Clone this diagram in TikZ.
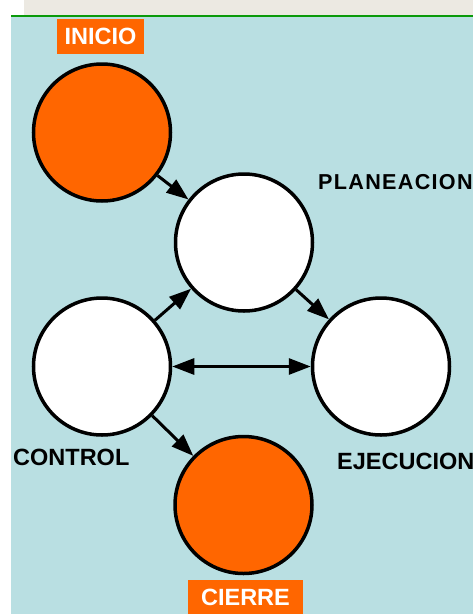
\documentclass[tikz,border=0pt]{standalone}
\usepackage{fontspec}
\setmainfont{Liberation Sans}
\newfontfamily\widefont[LetterSpace=6]{Liberation Sans}
\usetikzlibrary{arrows.meta}
\definecolor{bgblue}{HTML}{B9DFE2}
\definecolor{orng}{HTML}{FF6600}
\definecolor{grn}{HTML}{0A9A0A}
\definecolor{beige}{HTML}{ECE9E2}
\begin{document}
\begin{tikzpicture}[x=1pt,y=-1pt,
  phase/.style={circle, draw=black, line width=3.5pt, minimum size=137pt, inner sep=0pt},
  orangephase/.style={phase, fill=orng},
  whitephase/.style={phase, fill=white},
  lbl/.style={anchor=west, inner sep=0pt, text=black},
  tag/.style={fill=orng, text=white, inner sep=0pt, font=\bfseries\fontsize{23.5}{26}\selectfont},
  conn/.style={line width=3pt, -{Triangle[length=22pt,width=16pt]}},
  biconn/.style={line width=3pt, {Triangle[length=22pt,width=16pt]}-{Triangle[length=22pt,width=16pt]}}]
\useasboundingbox (0,0) rectangle (473,614);
\begin{scope}
\clip (0,0) rectangle (473,614);
\fill[white] (0,0) rectangle (473,614);
\fill[beige] (24,0) rectangle (473,15);
\fill[grn] (11,15) rectangle (473,17);
\fill[bgblue] (11,17) rectangle (473,614);

\node[orangephase] (inicio) at (102,132.5) {};
\node[whitephase] (plan) at (244,242.5) {};
\node[whitephase] (control) at (102,366.5) {};
\node[whitephase] (ejec) at (381,366.5) {};
\node[orangephase] (cierre) at (243.5,505) {};

\node[tag, minimum width=87pt, minimum height=35pt] (tinicio) at (100.5,36.5) {INICIO};
\node[tag, minimum width=115pt, minimum height=35pt] (tcierre) at (245.5,597.5) {CIERRE};

\node[lbl, font=\widefont\bfseries\fontsize{21.6}{24}\selectfont] (lplan) at (318,182) {PLANEACION};
\node[lbl, font=\bfseries\fontsize{23.5}{26}\selectfont] (lcontrol) at (13,457.5) {CONTROL};
\node[lbl, font=\bfseries\fontsize{23.5}{26}\selectfont] (lejec) at (337,461) {EJECUCION};

\draw[conn] (inicio) -- (plan);
\draw[conn] (control) -- (plan);
\draw[conn] (plan) -- (ejec);
\draw[conn] (control) -- (cierre);
\draw[biconn] (control) -- (ejec);
\end{scope}
\end{tikzpicture}
\end{document}
